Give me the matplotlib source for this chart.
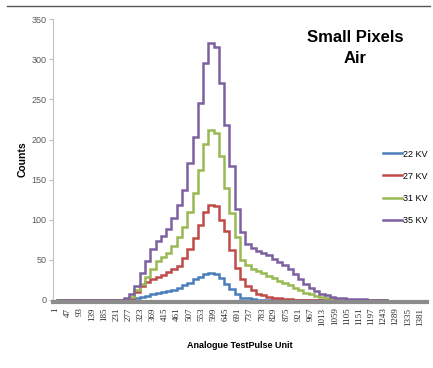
import numpy as np
import matplotlib
matplotlib.use("Agg")
from matplotlib import pyplot as plt
from matplotlib.lines import Line2D

plt.rcParams['font.family'] = ['Liberation Sans', 'DejaVu Sans']

# histogram bins (TestPulse units), first bin starts at 1
tp_edges = np.r_[1, np.arange(40, 1261, 20)]
tick_labels = np.arange(1, 1382, 46)

zeros12 = [0] * 12
kv22 = zeros12 + [0, 1, 2, 4, 5, 7, 9, 10, 11, 12,
                  15, 18, 21, 26, 29, 32, 34, 32, 27, 20,
                  13, 7, 3, 2, 1, 0.5, 0, 0, 0, 0,
                  0, 0, 0, 0, 0, 0, 0, 0, 0, 0,
                  0, 0, 0, 0, 0, 0, 0, 0, 0, 0]
kv27 = zeros12 + [0, 2, 10, 17, 22, 26, 29, 31, 35, 38,
                  42, 52, 63, 77, 93, 110, 119, 117, 100, 86,
                  62, 40, 26, 17, 12, 8, 6, 4, 3, 2,
                  1, 1, 0.5, 0, 0, 0, 0, 0, 0, 0,
                  0, 0, 0, 0, 0, 0, 0, 0, 0, 0]
kv31 = zeros12 + [0, 4, 12, 20, 28, 39, 49, 53, 58, 67,
                  78, 91, 110, 133, 162, 195, 212, 208, 180, 140,
                  108, 78, 50, 43, 39, 36, 33, 30, 27, 24,
                  21, 18, 15, 12, 9, 7, 5, 4, 3, 2,
                  1, 1, 0.5, 0, 0, 0, 0, 0, 0, 0]
kv35 = zeros12 + [3, 8, 17, 33, 49, 63, 74, 80, 89, 102,
                  119, 137, 171, 203, 246, 296, 321, 315, 270, 218,
                  167, 113, 85, 70, 65, 61, 59, 56, 51, 47,
                  43, 38, 32, 26, 20, 15, 11, 8, 6, 4,
                  3, 2, 1, 1, 1, 1, 0.5, 0.5, 0.5, 0.5]

series = [("22 KV", kv22, "#4a7ebb"),
          ("27 KV", kv27, "#be4b48"),
          ("31 KV", kv31, "#98b954"),
          ("35 KV", kv35, "#7d60a0")]

fig = plt.figure(figsize=(4.33, 3.68), dpi=100)
ax = fig.add_axes([0.1233, 0.185, 0.8628, 0.7626])

for name, vals, col in series:
    ax.stairs(vals, tp_edges, baseline=None, color=col, lw=1.8, label=name, zorder=3)

ax.set_xlim(-7, 1408)
ax.set_ylim(0, 350)
ax.set_yticks(range(0, 351, 50))
ax.set_xticks(tick_labels)
ax.set_xticklabels([str(t) for t in tick_labels])
ax.tick_params(axis='x', length=0, pad=4, labelrotation=90, labelsize=6.5,
               labelcolor='#262626', labelfontfamily='Liberation Serif')
ax.tick_params(axis='y', length=3, width=0.8, color='#bfbfbf', labelsize=6.5, labelcolor='#595959', pad=2)

for s in ['top', 'right']:
    ax.spines[s].set_visible(False)
ax.spines['left'].set_color('#bfbfbf')
ax.spines['left'].set_linewidth(0.8)
ax.spines['bottom'].set_color('#8c8c8c')
ax.spines['bottom'].set_linewidth(3)
ax.spines['bottom'].set_position(('outward', 1.5))

ax.set_ylabel("Counts", fontsize=7.5, fontweight='bold', labelpad=3)
ax.set_xlabel("Analogue TestPulse Unit", fontsize=6.5, fontweight='bold', labelpad=11)

fig.text(0.82, 0.87, "Small Pixels\nAir", ha='center', va='center',
         fontsize=12, fontweight='bold', linespacing=1.45)

ax.legend(loc='center left', bbox_to_anchor=(0.8845, 0.4913), bbox_transform=fig.transFigure,
          frameon=False, fontsize=6.5, handlelength=2.1, handletextpad=0.1,
          labelspacing=1.45, borderpad=0, borderaxespad=0)

fig.add_artist(Line2D([0.016, 0.993], [0.984, 0.984], transform=fig.transFigure,
                      color='#555555', lw=1))

fig.savefig("out.png", dpi=100)
